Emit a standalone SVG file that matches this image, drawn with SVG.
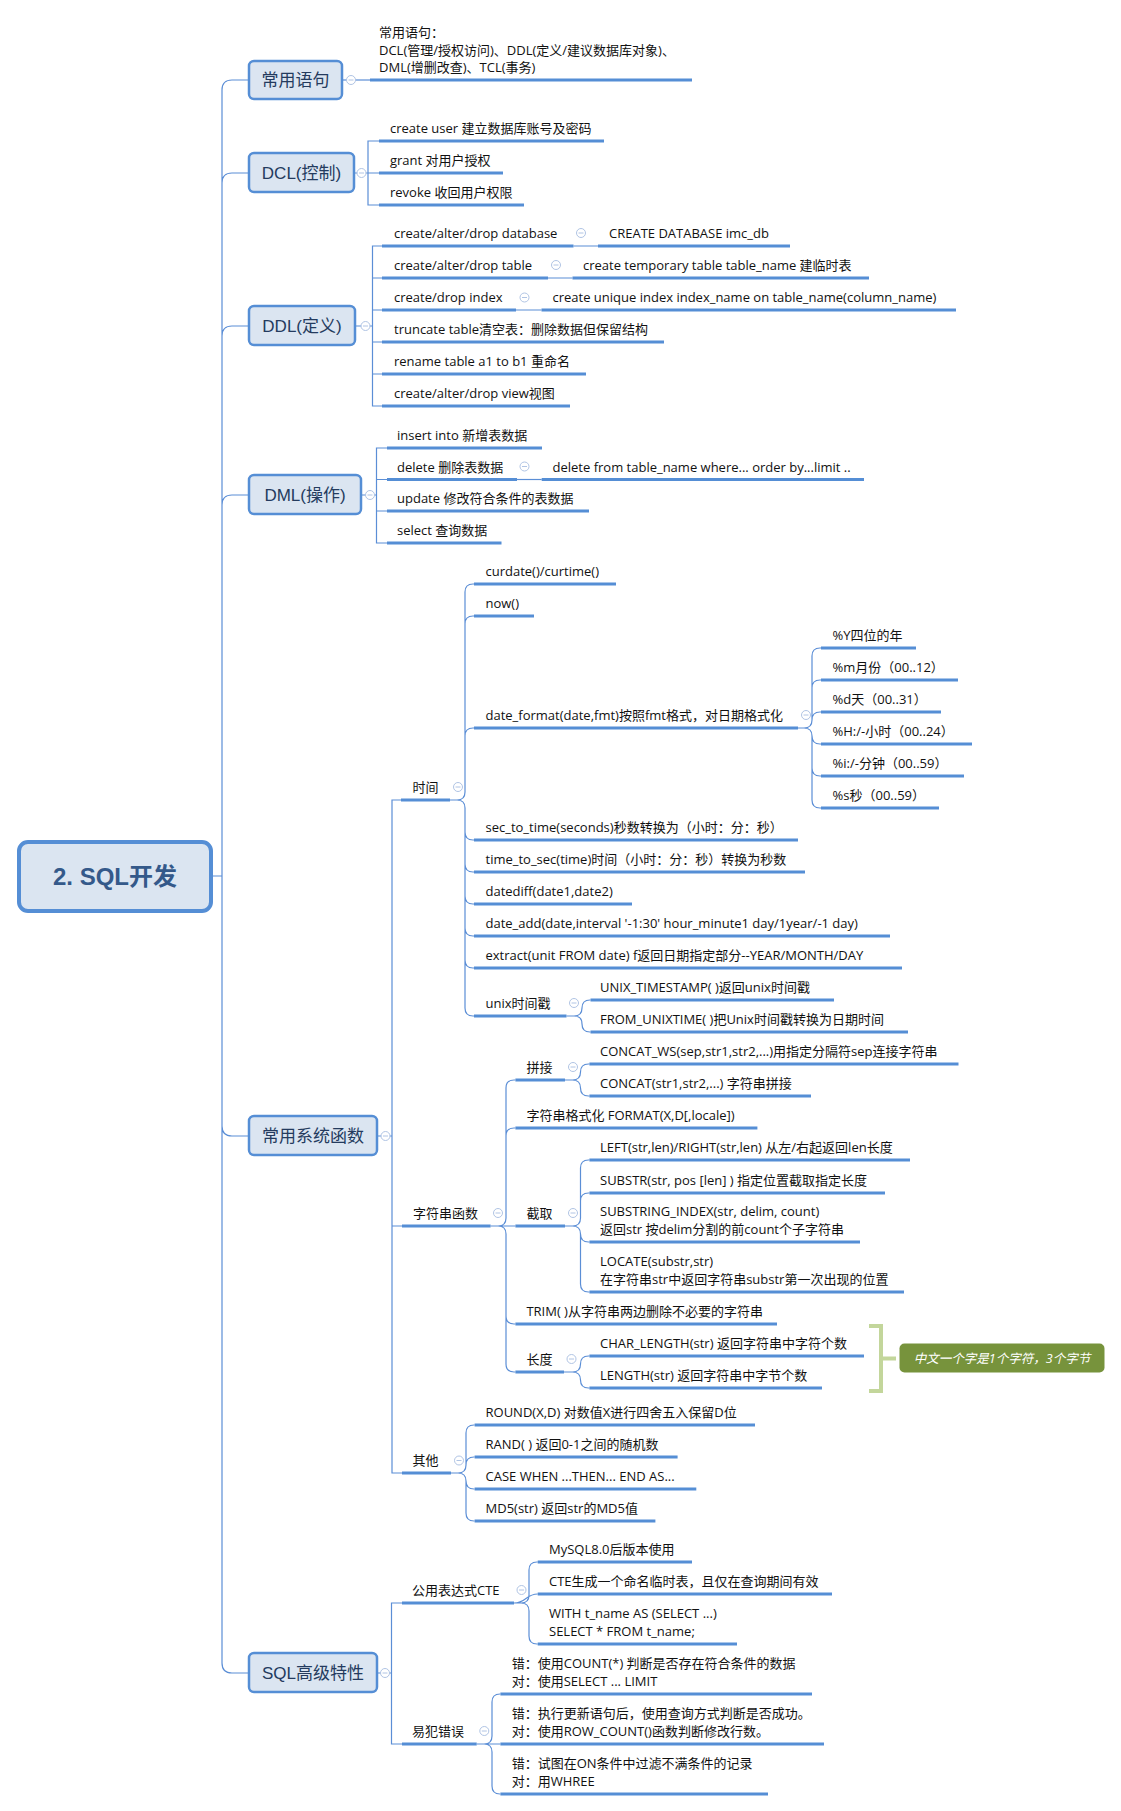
<svg xmlns="http://www.w3.org/2000/svg" width="1121" height="1811" viewBox="0 0 1121 1811">
<style>
.t{font-family:"Open Sans","Noto Sans CJK SC",sans-serif;font-size:13px;fill:#111}
.m{font-family:"Liberation Sans","Noto Sans CJK SC",sans-serif;font-size:17px;fill:#243B5E;text-anchor:middle}
.b{fill:#DBE5F1;stroke:#558ED5;stroke-width:2.5}
.u{stroke:#558ED5;stroke-width:3;fill:none}
.l{stroke:#5B8ED6;stroke-width:1.2;fill:none}
</style>
<defs>
<g id="c"><circle r="4.5" fill="#fff" stroke="#B0C4E4" stroke-width="1"/><path d="M-2.5,0H2.5" stroke="#B0C4E4" stroke-width="1"/></g>
</defs>
<rect width="1121" height="1811" fill="#fff"/>

<g id="connectors" class="l">
<path d="M213,876H222V90Q222,80 232,80H248M222,876V183Q222,173 232,173H248M222,876V336Q222,326 232,326H248M222,876V505Q222,495 232,495H248M222,876V1126Q222,1136 232,1136H248M222,876V1663Q222,1673 232,1673H248"/>
<path d="M343,80H370"/>
<path d="M355,173H368M379,141H368V205H379M368,173H379"/>
<path d="M356,326H372.5M382,246H372.5V406H382M372.5,278H382M372.5,310H382M372.5,342H382M372.5,374H382"/>
<path d="M573.5,246H598M548,278H572.5M516,310H541.5"/>
<path d="M362,495H376.5M387,448H376.5V543H387M376.5,479.5H387M376.5,511H387"/>
<path d="M517,479.5H541.7"/>
<path d="M378,1136H392M401,800H392V1473H402M392,1226H402"/>
<path d="M378,1673H391.5M402,1603H391.5V1744H402"/>
<path d="M450,800H457Q465,800 465,792V592Q465,584 473,584H474M465,792V624Q465,616 473,616H474M465,792V736Q465,728 473,728H474M450,800H457Q465,800 465,808V832Q465,840 473,840H474M465,808V864Q465,872 473,872H474M465,808V896Q465,904 473,904H474M465,808V928Q465,936 473,936H474M465,808V960Q465,968 473,968H474M465,808V1008Q465,1016 473,1016H474"/>
<path d="M798,728H804Q812,728 812,720V656Q812,648 820,648H821M812,720V688Q812,680 820,680H821M812,720Q812,712 820,712H821M798,728H804Q812,728 812,736Q812,744 820,744H821M812,736V768Q812,776 820,776H821M812,736V800Q812,808 820,808H821"/>
<path d="M566.5,1016H574Q582,1016 582,1008Q582,1000 590,1000H590.5M566.5,1016H574Q582,1016 582,1024Q582,1032 590,1032H590.5"/>
<path d="M490.6,1226H498Q506,1226 506,1218V1088Q506,1080 514,1080H515.4M506,1218V1136Q506,1128 514,1128H515.4M490.6,1226H515.4M490.6,1226H498Q506,1226 506,1234V1316Q506,1324 514,1324H515.4M506,1234V1364Q506,1372 514,1372H515.4"/>
<path d="M565,1080H572.5Q580.5,1080 580.5,1072Q580.5,1064 588.5,1064H589.4M565,1080H572.5Q580.5,1080 580.5,1088Q580.5,1096 588.5,1096H589.4"/>
<path d="M565,1226H572.5Q580.5,1226 580.5,1218V1168Q580.5,1160 588.5,1160H589.4M580.5,1218V1201Q580.5,1193 588.5,1193H589.4M565,1226H572.5Q580.5,1226 580.5,1234Q580.5,1242 588.5,1242H589.4M580.5,1234V1284Q580.5,1292 588.5,1292H589.4"/>
<path d="M564,1372H572.5Q580.5,1372 580.5,1364Q580.5,1356 588.5,1356H589.4M564,1372H572.5Q580.5,1372 580.5,1380Q580.5,1388 588.5,1388H589.4"/>
<path d="M451,1473H458Q466,1473 466,1465V1433Q466,1425 474,1425H474.6M466,1465Q466,1457 474,1457H474.6M451,1473H458Q466,1473 466,1481Q466,1489 474,1489H474.6M466,1481V1513Q466,1521 474,1521H474.6"/>
<path d="M514,1603H521Q529,1603 529,1595V1570Q529,1562 537,1562H537.7M514,1603C526,1603 526,1594 537.7,1594M514,1603H521Q529,1603 529,1611V1636Q529,1644 537,1644H537.7"/>
<path d="M476.7,1744H484Q492,1744 492,1736V1702Q492,1694 500,1694H500.4M476.7,1744H500.4M476.7,1744H484Q492,1744 492,1752V1786Q492,1794 500,1794H500.4"/>
</g>

<g id="root">
<rect x="19" y="842" width="192" height="69" rx="9" fill="#DBE5F1" stroke="#558ED5" stroke-width="4"/>
<text x="115" y="885" text-anchor="middle" font-family="Liberation Sans,Noto Sans CJK SC,sans-serif" font-size="24" font-weight="bold" fill="#34598A">2. SQL开发</text>
</g>

<g id="n-changyong">
<rect class="b" x="249" y="61" width="93" height="38" rx="5"/>
<text class="m" x="295.5" y="86">常用语句</text>
<use href="#c" x="351" y="80"/>
</g>
<g id="n-changyong-desc">
<path class="u" d="M370,80H692"/>
<text class="t" x="379" y="36.5">常用语句：</text>
<text class="t" x="379" y="54.5">DCL(管理/授权访问)、DDL(定义/建议数据库对象)、</text>
<text class="t" x="379" y="72">DML(增删改查)、TCL(事务)</text>
</g>

<g id="n-dcl">
<rect class="b" x="249" y="153" width="105" height="39" rx="5"/>
<text class="m" x="301.5" y="179">DCL(控制)</text>
<use href="#c" x="361.5" y="173"/>
</g>
<g id="n-dcl-1"><path class="u" d="M379,141H604"/><text class="t" x="390" y="133">create user 建立数据库账号及密码</text></g>
<g id="n-dcl-2"><path class="u" d="M379,173H503"/><text class="t" x="390" y="165">grant 对用户授权</text></g>
<g id="n-dcl-3"><path class="u" d="M379,205H524"/><text class="t" x="390" y="197">revoke 收回用户权限</text></g>

<g id="n-ddl">
<rect class="b" x="249" y="306" width="106" height="39" rx="5"/>
<text class="m" x="302" y="332">DDL(定义)</text>
<use href="#c" x="365.5" y="326"/>
</g>
<g id="n-ddl-1"><path class="u" d="M382,246H573.5"/><text class="t" x="394" y="238">create/alter/drop database</text><use href="#c" x="581" y="233"/></g>
<g id="n-ddl-1a"><path class="u" d="M598,246H790"/><text class="t" x="609" y="238">CREATE DATABASE imc_db</text></g>
<g id="n-ddl-2"><path class="u" d="M382,278H548"/><text class="t" x="394" y="270">create/alter/drop table</text><use href="#c" x="556" y="265"/></g>
<g id="n-ddl-2a"><path class="u" d="M572.5,278H869"/><text class="t" x="583" y="270">create temporary table table_name 建临时表</text></g>
<g id="n-ddl-3"><path class="u" d="M382,310H516"/><text class="t" x="394" y="302">create/drop index</text><use href="#c" x="524.5" y="297.5"/></g>
<g id="n-ddl-3a"><path class="u" d="M541.5,310H956"/><text class="t" x="552.5" y="302">create unique index index_name on table_name(column_name)</text></g>
<g id="n-ddl-4"><path class="u" d="M382,342H664"/><text class="t" x="394" y="334">truncate table清空表：删除数据但保留结构</text></g>
<g id="n-ddl-5"><path class="u" d="M382,374H586"/><text class="t" x="394" y="366">rename table a1 to b1 重命名</text></g>
<g id="n-ddl-6"><path class="u" d="M382,406H570"/><text class="t" x="394" y="398">create/alter/drop view视图</text></g>

<g id="n-dml">
<rect class="b" x="249" y="475" width="112" height="39" rx="5"/>
<text class="m" x="305" y="501">DML(操作)</text>
<use href="#c" x="370" y="495"/>
</g>
<g id="n-dml-1"><path class="u" d="M387,448H542"/><text class="t" x="397" y="440">insert into 新增表数据</text></g>
<g id="n-dml-2"><path class="u" d="M387,479.5H517"/><text class="t" x="397" y="471.5">delete 删除表数据</text><use href="#c" x="524.5" y="466.5"/></g>
<g id="n-dml-2a"><path class="u" d="M541.7,479.5H864"/><text class="t" x="552.5" y="471.5">delete from table_name where... order by...limit ..</text></g>
<g id="n-dml-3"><path class="u" d="M387,511H589"/><text class="t" x="397" y="503">update 修改符合条件的表数据</text></g>
<g id="n-dml-4"><path class="u" d="M387,543H501.5"/><text class="t" x="397" y="535">select 查询数据</text></g>

<g id="n-func">
<rect class="b" x="249" y="1116" width="128" height="39" rx="5"/>
<text class="m" x="313" y="1142">常用系统函数</text>
<use href="#c" x="385.5" y="1136"/>
</g>
<g id="n-time"><path class="u" d="M401,800H450"/><text class="t" x="412.5" y="792">时间</text><use href="#c" x="458" y="787"/></g>
<g id="n-time-1"><path class="u" d="M474,584H616"/><text class="t" x="485.5" y="576">curdate()/curtime()</text></g>
<g id="n-time-2"><path class="u" d="M474,616H534"/><text class="t" x="485.5" y="608">now()</text></g>
<g id="n-time-3"><path class="u" d="M474,728H798"/><text class="t" x="485.5" y="720">date_format(date,fmt)按照fmt格式，对日期格式化</text><use href="#c" x="806" y="715"/></g>
<g id="n-fmt-1"><path class="u" d="M821,648H916"/><text class="t" x="832.5" y="640">%Y四位的年</text></g>
<g id="n-fmt-2"><path class="u" d="M821,680H958"/><text class="t" x="832.5" y="672">%m月份（00..12）</text></g>
<g id="n-fmt-3"><path class="u" d="M821,712H941"/><text class="t" x="832.5" y="704">%d天（00..31）</text></g>
<g id="n-fmt-4"><path class="u" d="M821,744H972"/><text class="t" x="832.5" y="736">%H:/-小时（00..24）</text></g>
<g id="n-fmt-5"><path class="u" d="M821,776H964"/><text class="t" x="832.5" y="768">%i:/-分钟（00..59）</text></g>
<g id="n-fmt-6"><path class="u" d="M821,808H939"/><text class="t" x="832.5" y="800">%s秒（00..59）</text></g>
<g id="n-time-4"><path class="u" d="M474,840H798"/><text class="t" x="485.5" y="832">sec_to_time(seconds)秒数转换为（小时：分：秒）</text></g>
<g id="n-time-5"><path class="u" d="M474,872H805"/><text class="t" x="485.5" y="864">time_to_sec(time)时间（小时：分：秒）转换为秒数</text></g>
<g id="n-time-6"><path class="u" d="M474,904H632"/><text class="t" x="485.5" y="896">datediff(date1,date2)</text></g>
<g id="n-time-7"><path class="u" d="M474,936H890"/><text class="t" x="485.5" y="928">date_add(date,interval '-1:30' hour_minute1 day/1year/-1 day)</text></g>
<g id="n-time-8"><path class="u" d="M474,968H902"/><text class="t" x="485.5" y="960">extract(unit FROM date) f返回日期指定部分--YEAR/MONTH/DAY</text></g>
<g id="n-time-9"><path class="u" d="M474,1016H566.5"/><text class="t" x="485.5" y="1008">unix时间戳</text><use href="#c" x="574" y="1003"/></g>
<g id="n-unix-1"><path class="u" d="M590.5,1000H834"/><text class="t" x="600" y="992">UNIX_TIMESTAMP( )返回unix时间戳</text></g>
<g id="n-unix-2"><path class="u" d="M590.5,1032H908"/><text class="t" x="600" y="1024">FROM_UNIXTIME( )把Unix时间戳转换为日期时间</text></g>

<g id="n-str"><path class="u" d="M402,1226H490.6"/><text class="t" x="413" y="1218">字符串函数</text><use href="#c" x="498" y="1213"/></g>
<g id="n-str-1"><path class="u" d="M515.4,1080H565"/><text class="t" x="526.4" y="1072">拼接</text><use href="#c" x="573" y="1067"/></g>
<g id="n-cat-1"><path class="u" d="M589.4,1064H958.5"/><text class="t" x="600" y="1056">CONCAT_WS(sep,str1,str2,...)用指定分隔符sep连接字符串</text></g>
<g id="n-cat-2"><path class="u" d="M589.4,1096H811"/><text class="t" x="600" y="1088">CONCAT(str1,str2,...) 字符串拼接</text></g>
<g id="n-str-2"><path class="u" d="M515.4,1128H757.4"/><text class="t" x="526.4" y="1120">字符串格式化 FORMAT(X,D[,locale])</text></g>
<g id="n-str-3"><path class="u" d="M515.4,1226H565"/><text class="t" x="526.4" y="1218">截取</text><use href="#c" x="573" y="1213"/></g>
<g id="n-sub-1"><path class="u" d="M589.4,1160H910"/><text class="t" x="600" y="1152">LEFT(str,len)/RIGHT(str,len) 从左/右起返回len长度</text></g>
<g id="n-sub-2"><path class="u" d="M589.4,1193H885"/><text class="t" x="600" y="1185">SUBSTR(str, pos [len] ) 指定位置截取指定长度</text></g>
<g id="n-sub-3"><path class="u" d="M589.4,1242H860"/><text class="t" x="600" y="1216">SUBSTRING_INDEX(str, delim, count)</text><text class="t" x="600" y="1234">返回str 按delim分割的前count个子字符串</text></g>
<g id="n-sub-4"><path class="u" d="M589.4,1292H904"/><text class="t" x="600" y="1266">LOCATE(substr,str)</text><text class="t" x="600" y="1284">在字符串str中返回字符串substr第一次出现的位置</text></g>
<g id="n-str-4"><path class="u" d="M515.4,1324H777"/><text class="t" x="526.4" y="1316">TRIM( )从字符串两边删除不必要的字符串</text></g>
<g id="n-str-5"><path class="u" d="M515.4,1372H564"/><text class="t" x="526.4" y="1364">长度</text><use href="#c" x="571.5" y="1359"/></g>
<g id="n-len-1"><path class="u" d="M589.4,1356H864"/><text class="t" x="600" y="1348">CHAR_LENGTH(str) 返回字符串中字符个数</text></g>
<g id="n-len-2"><path class="u" d="M589.4,1388H822"/><text class="t" x="600" y="1380">LENGTH(str) 返回字符串中字节个数</text></g>
<g id="n-len-summary">
<path d="M869,1326H881V1391H869M881,1358.5H896" fill="none" stroke="#C3D69B" stroke-width="4"/>
<rect x="899.5" y="1343.5" width="205" height="29" rx="5" fill="#77933C"/>
<text x="1002" y="1362.5" text-anchor="middle" font-family="Open Sans,Noto Sans CJK SC,sans-serif" font-size="12.5" font-style="italic" fill="#fff">中文一个字是1个字符，3个字节</text>
</g>

<g id="n-other"><path class="u" d="M402,1473H451"/><text class="t" x="412.6" y="1465">其他</text><use href="#c" x="459" y="1460.5"/></g>
<g id="n-other-1"><path class="u" d="M474.6,1425H755"/><text class="t" x="485.5" y="1417">ROUND(X,D) 对数值X进行四舍五入保留D位</text></g>
<g id="n-other-2"><path class="u" d="M474.6,1457H677.6"/><text class="t" x="485.5" y="1449">RAND( ) 返回0-1之间的随机数</text></g>
<g id="n-other-3"><path class="u" d="M474.6,1489H696.3"/><text class="t" x="485.5" y="1481">CASE WHEN ...THEN... END AS...</text></g>
<g id="n-other-4"><path class="u" d="M474.6,1521H655.4"/><text class="t" x="485.5" y="1513">MD5(str) 返回str的MD5值</text></g>

<g id="n-adv">
<rect class="b" x="249" y="1653" width="128" height="39" rx="5"/>
<text class="m" x="313" y="1679">SQL高级特性</text>
<use href="#c" x="385" y="1673"/>
</g>
<g id="n-cte"><path class="u" d="M402,1603H514"/><text class="t" x="412" y="1595">公用表达式CTE</text><use href="#c" x="521.5" y="1590"/></g>
<g id="n-cte-1"><path class="u" d="M537.7,1562H692"/><text class="t" x="549" y="1554">MySQL8.0后版本使用</text></g>
<g id="n-cte-2"><path class="u" d="M537.7,1594H832"/><text class="t" x="549" y="1586">CTE生成一个命名临时表，且仅在查询期间有效</text></g>
<g id="n-cte-3"><path class="u" d="M537.7,1644H737"/><text class="t" x="549" y="1618">WITH t_name AS (SELECT ...)</text><text class="t" x="549" y="1636">SELECT * FROM t_name;</text></g>
<g id="n-err"><path class="u" d="M402,1744H476.7"/><text class="t" x="412" y="1736">易犯错误</text><use href="#c" x="484.3" y="1731"/></g>
<g id="n-err-1"><path class="u" d="M500.4,1694H812"/><text class="t" x="511.7" y="1668">错：使用COUNT(*) 判断是否存在符合条件的数据</text><text class="t" x="511.7" y="1686">对：使用SELECT ... LIMIT</text></g>
<g id="n-err-2"><path class="u" d="M500.4,1744H824"/><text class="t" x="511.7" y="1718">错：执行更新语句后，使用查询方式判断是否成功。</text><text class="t" x="511.7" y="1736">对：使用ROW_COUNT()函数判断修改行数。</text></g>
<g id="n-err-3"><path class="u" d="M500.4,1794H768"/><text class="t" x="511.7" y="1768">错：试图在ON条件中过滤不满条件的记录</text><text class="t" x="511.7" y="1786">对：用WHREE</text></g>
</svg>
